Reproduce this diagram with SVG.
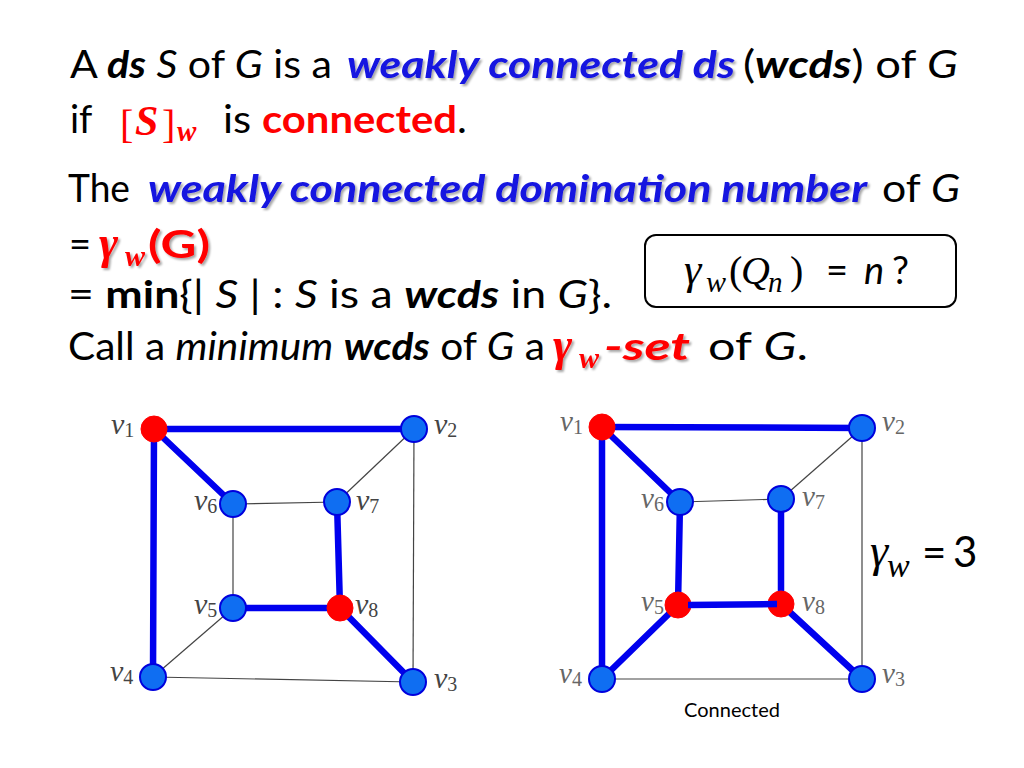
<svg xmlns="http://www.w3.org/2000/svg" width="1024" height="768" viewBox="0 0 1024 768">
<defs>
<style>
text{font-family:Lato,"Liberation Sans",sans-serif;fill:#000}
.t{font-size:38px}
.b{font-weight:bold}
.i{font-style:italic}
.bi{font-weight:bold;font-style:italic}
.blue{fill:#1212e0;font-weight:bold;font-style:italic}
.red{fill:#ff0000}
.m{font-family:"Liberation Serif",serif;font-style:italic}
.u{font-style:normal}
.lbl{font-family:"Liberation Serif",serif;font-style:italic;font-size:30px;fill:#444}
.lbl2{font-family:"Liberation Serif",serif;font-style:italic;font-size:29px;fill:#666}
.sub{font-size:20px;font-style:normal}
.thick{stroke:#0000ee;stroke-width:6.5;stroke-linecap:round}
.thin{stroke:#444;stroke-width:1.2}
.nb{fill:#0f6ef2;stroke:#0000dd;stroke-width:2}
.nr{fill:#ff0000;stroke:#ff0000;stroke-width:1}
</style>
<filter id="sh" x="-5%" y="-30%" width="115%" height="170%">
<feDropShadow dx="2" dy="2" stdDeviation="1" flood-color="#000" flood-opacity="0.35"/>
</filter>
</defs>
<rect width="1024" height="768" fill="#fff"/>

<!-- Line 1 -->
<text class="t" x="70" y="78" textLength="262" lengthAdjust="spacingAndGlyphs">A <tspan class="bi">ds</tspan> <tspan class="i">S</tspan> of <tspan class="i">G</tspan> is a</text>
<text class="t blue" x="347" y="78" textLength="388" lengthAdjust="spacingAndGlyphs" filter="url(#sh)">weakly connected ds</text>
<text class="t" x="743" y="78" textLength="215" lengthAdjust="spacingAndGlyphs">(<tspan class="bi">wcds</tspan>) of <tspan class="i">G</tspan></text>

<!-- Line 2 -->
<text class="t" x="70" y="133">if</text>
<g id="sw">
<text class="m u red" x="120" y="138" font-size="40">[</text>
<text class="m red" x="135" y="135" font-size="42" font-weight="bold">S</text>
<text class="m u red" x="162" y="138" font-size="40">]</text>
<text class="m red" x="177" y="141" font-size="29" font-weight="bold">w</text>
</g>
<text class="t" x="223" y="133" textLength="244" lengthAdjust="spacingAndGlyphs">is <tspan class="b red">connected</tspan>.</text>

<!-- Line 3 -->
<text class="t" x="68" y="202" textLength="62" lengthAdjust="spacingAndGlyphs">The</text>
<text class="t blue" x="148" y="202" textLength="719" lengthAdjust="spacingAndGlyphs" filter="url(#sh)">weakly connected domination number</text>
<text class="t" x="882" y="202" textLength="78" lengthAdjust="spacingAndGlyphs">of <tspan class="i">G</tspan></text>

<!-- Line 4 -->
<text class="t" x="69" y="258">=</text>
<g filter="url(#sh)">
<text class="m red" x="99" y="258" font-size="46" font-weight="bold">γ</text>
<text class="m red" x="125" y="266" font-size="30" font-weight="bold">w</text>
<text class="t b red" x="148" y="258" textLength="62" lengthAdjust="spacingAndGlyphs">(G)</text>
</g>

<!-- Line 5 -->
<text class="t" x="68" y="308" textLength="544" lengthAdjust="spacingAndGlyphs">= <tspan class="b">min</tspan>{| <tspan class="i">S</tspan> | : <tspan class="i">S</tspan> is a <tspan class="bi">wcds</tspan> in <tspan class="i">G</tspan>}.</text>

<!-- Line 6 -->
<text class="t" x="68" y="360" textLength="477" lengthAdjust="spacingAndGlyphs">Call a <tspan class="i">minimum</tspan> <tspan class="bi">wcds</tspan> of <tspan class="i">G</tspan> a</text>
<g filter="url(#sh)">
<text class="m red" x="553" y="360" font-size="46" font-weight="bold">γ</text>
<text class="m red" x="579" y="368" font-size="30" font-weight="bold">w</text>
<text class="t bi red" x="604" y="360" textLength="86" lengthAdjust="spacingAndGlyphs">-set</text>
</g>
<text class="t" x="708" y="360" textLength="100" lengthAdjust="spacingAndGlyphs">of <tspan class="i">G</tspan>.</text>

<!-- Question box -->
<g id="qbox">
<rect x="645" y="235" width="311" height="72" rx="11" fill="#fff" stroke="#000" stroke-width="2"/>
<text class="m" x="684" y="284" font-size="44">γ</text>
<text class="m" x="706" y="292" font-size="30">w</text>
<text class="m u" x="729" y="284" font-size="40">(</text>
<text class="m" x="741" y="284" font-size="40">Q</text>
<text class="m" x="768" y="292" font-size="29">n</text>
<text class="m u" x="790" y="284" font-size="40">)</text>
<text class="t" x="826" y="284">=</text>
<text class="t i" x="864" y="284">n</text>
<text class="t" x="892" y="284">?</text>
</g>

<!-- gamma_w = 3 -->
<g id="gw3">
<text class="m" x="870" y="566" font-size="46">γ</text>
<text class="m" x="887" y="577" font-size="34">w</text>
<text x="922" y="567" font-size="42">=</text>
<text x="953" y="567" font-size="42">3</text>
</g>

<!-- Graph 1 -->
<g id="connectors1">
<line class="thin" x1="414" y1="429" x2="337" y2="502"/>
<line class="thin" x1="414" y1="429" x2="413" y2="682"/>
<line class="thin" x1="233" y1="504" x2="337" y2="502"/>
<line class="thin" x1="233" y1="504" x2="233" y2="608"/>
<line class="thin" x1="233" y1="608" x2="153" y2="677"/>
<line class="thin" x1="153" y1="677" x2="413" y2="682"/>
<line class="thick" x1="154" y1="429" x2="414" y2="429"/>
<line class="thick" x1="154" y1="429" x2="233" y2="504"/>
<line class="thick" x1="154" y1="429" x2="153" y2="677"/>
<line class="thick" x1="337" y1="502" x2="340" y2="608"/>
<line class="thick" x1="233" y1="608" x2="340" y2="608"/>
<line class="thick" x1="340" y1="608" x2="413" y2="682"/>
</g>
<g id="g1-v1"><circle class="nr" cx="154" cy="429" r="13"/><text class="lbl" x="111" y="434">v<tspan class="sub" dy="3">1</tspan></text></g>
<g id="g1-v2"><circle class="nb" cx="414" cy="429" r="13"/><text class="lbl" x="434" y="434">v<tspan class="sub" dy="3">2</tspan></text></g>
<g id="g1-v3"><circle class="nb" cx="413" cy="682" r="13"/><text class="lbl" x="434" y="688">v<tspan class="sub" dy="3">3</tspan></text></g>
<g id="g1-v4"><circle class="nb" cx="153" cy="677" r="13"/><text class="lbl" x="110" y="681">v<tspan class="sub" dy="3">4</tspan></text></g>
<g id="g1-v5"><circle class="nb" cx="233" cy="608" r="13"/><text class="lbl" x="194" y="614">v<tspan class="sub" dy="3">5</tspan></text></g>
<g id="g1-v6"><circle class="nb" cx="233" cy="504" r="13"/><text class="lbl" x="194" y="510">v<tspan class="sub" dy="3">6</tspan></text></g>
<g id="g1-v7"><circle class="nb" cx="337" cy="502" r="13"/><text class="lbl" x="356" y="510">v<tspan class="sub" dy="3">7</tspan></text></g>
<g id="g1-v8"><circle class="nr" cx="340" cy="608" r="13"/><text class="lbl" x="355" y="614">v<tspan class="sub" dy="3">8</tspan></text></g>

<!-- Graph 2 -->
<g id="connectors2">
<line class="thin" x1="862" y1="428" x2="781" y2="499"/>
<line class="thin" x1="862" y1="428" x2="862" y2="679"/>
<line class="thin" x1="680" y1="502" x2="781" y2="499"/>
<line class="thin" x1="602" y1="679" x2="862" y2="679"/>
<line class="thick" x1="602" y1="427" x2="862" y2="428"/>
<line class="thick" x1="602" y1="427" x2="680" y2="502"/>
<line class="thick" x1="602" y1="427" x2="602" y2="679"/>
<line class="thick" x1="680" y1="502" x2="678" y2="605"/>
<line class="thick" x1="781" y1="499" x2="781" y2="604"/>
<line class="thick" x1="678" y1="605" x2="602" y2="679"/>
<line class="thick" x1="781" y1="604" x2="862" y2="679"/>
</g>
<g id="g2-v1"><circle class="nr" cx="602" cy="427" r="13"/><text class="lbl2" x="560" y="431">v<tspan class="sub" dy="3">1</tspan></text></g>
<g id="g2-v2"><circle class="nb" cx="862" cy="428" r="13"/><text class="lbl2" x="882" y="431">v<tspan class="sub" dy="3">2</tspan></text></g>
<g id="g2-v3"><circle class="nb" cx="862" cy="679" r="13"/><text class="lbl2" x="882" y="683">v<tspan class="sub" dy="3">3</tspan></text></g>
<g id="g2-v4"><circle class="nb" cx="602" cy="679" r="13"/><text class="lbl2" x="559" y="683">v<tspan class="sub" dy="3">4</tspan></text></g>
<g id="g2-v5"><circle class="nr" cx="678" cy="605" r="13"/><text class="lbl2" x="641" y="611">v<tspan class="sub" dy="3">5</tspan></text></g>
<g id="g2-v6"><circle class="nb" cx="680" cy="502" r="13"/><text class="lbl2" x="641" y="508">v<tspan class="sub" dy="3">6</tspan></text></g>
<g id="g2-v7"><circle class="nb" cx="781" cy="499" r="13"/><text class="lbl2" x="802" y="506">v<tspan class="sub" dy="3">7</tspan></text></g>
<g id="g2-v8"><circle class="nr" cx="781" cy="604" r="13"/><text class="lbl2" x="802" y="611">v<tspan class="sub" dy="3">8</tspan></text></g>
<g id="connectors2-top">
<line x1="688" y1="605" x2="777" y2="604" stroke="#0000ee" stroke-width="6.5"/>
</g>
<text x="732" y="717" font-size="20" text-anchor="middle">Connected</text>
</svg>
